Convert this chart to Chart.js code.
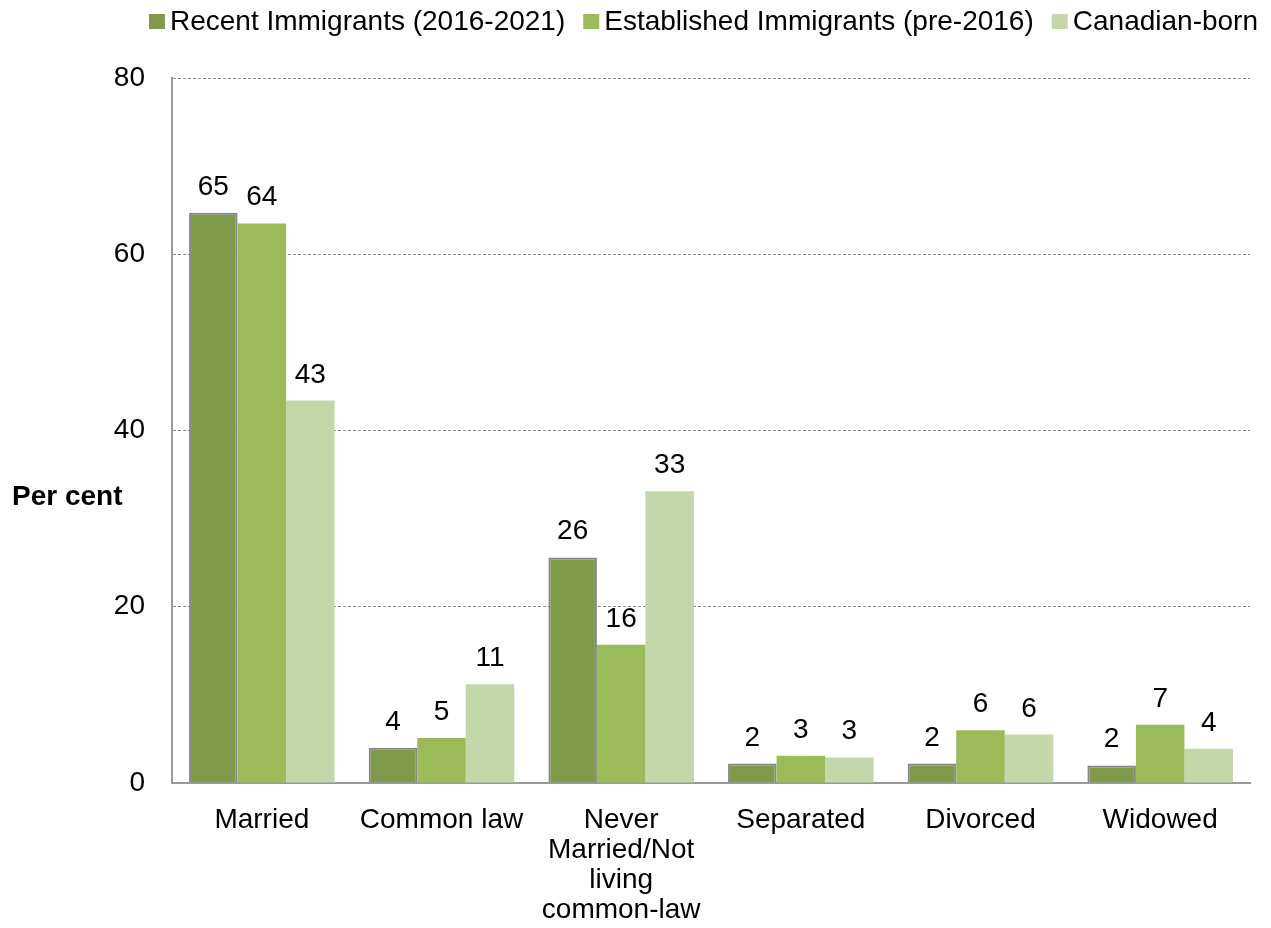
<!DOCTYPE html>
<html>
<head>
<meta charset="utf-8">
<script src="https://cdn.jsdelivr.net/npm/chart.js@4"></script>
<style>
  html, body { margin: 0; padding: 0; background: #fff; }
  #wrap { width: 1271px; height: 928px; }
</style>
</head>
<body>
<div id="wrap"><canvas id="statusChart"></canvas></div>
<script>
const categories = ['Married', 'Common law', ['Never', 'Married/Not', 'living', 'common-law'], 'Separated', 'Divorced', 'Widowed'];
const recentImmigrants = [64.7, 4.0, 25.6, 2.2, 2.2, 2.0];
const establishedImmigrants = [63.5, 5.1, 15.7, 3.1, 6.0, 6.6];
const canadianBorn = [43.4, 11.2, 33.1, 2.9, 5.5, 3.9];
const yTicks = [0, 20, 40, 60, 80];

const FONT = '"Liberation Sans", Arial, sans-serif';

// value labels above bars, the legend row and the horizontal y axis title
const annotations = {
    id: 'annotations',
    afterDatasetsDraw(chart) {
        const ctx = chart.ctx;
        ctx.save();
        ctx.font = '28px ' + FONT;
        ctx.fillStyle = '#000';
        ctx.textAlign = 'center';
        ctx.textBaseline = 'alphabetic';
        chart.data.datasets.forEach((ds, i) => {
            chart.getDatasetMeta(i).data.forEach((bar, j) => {
                ctx.fillText(String(Math.round(ds.data[j])), bar.x, bar.y - 18);
            });
        });

        // legend, right aligned
        const box = 16, gap = 5, spacing = 18, right = 1258, cy = 22;
        const items = chart.data.datasets.map(ds => ({
            text: ds.label, color: ds.backgroundColor, w: ctx.measureText(ds.label).width
        }));
        let total = items.reduce((s, it) => s + box + gap + it.w, 0) + spacing * (items.length - 1);
        let x = right - total;
        ctx.textAlign = 'left';
        ctx.textBaseline = 'middle';
        items.forEach(it => {
            ctx.fillStyle = it.color;
            ctx.fillRect(x, cy - 8, box, 15);
            ctx.fillStyle = '#000';
            ctx.fillText(it.text, x + box + gap, cy);
            x += box + gap + it.w + spacing;
        });

        ctx.font = 'bold 28px ' + FONT;
        ctx.fillText('Per cent', 12, 497);
        ctx.restore();
    }
};

const ctx = document.getElementById('statusChart').getContext('2d');
const statusChart = new Chart(ctx, {
    type: 'bar',
    data: {
        labels: categories,
        datasets: [{
            label: 'Recent Immigrants (2016-2021)',
            data: recentImmigrants,
            backgroundColor: '#7F9A4A',
            borderColor: '#868686',
            borderWidth: 2
        }, {
            label: 'Established Immigrants (pre-2016)',
            data: establishedImmigrants,
            backgroundColor: '#9BBB59',
            borderWidth: 0
        }, {
            label: 'Canadian-born',
            data: canadianBorn,
            backgroundColor: '#C4D7AA',
            borderWidth: 0
        }]
    },
    options: {
        responsive: true,
        maintainAspectRatio: false,
        animation: false,
        layout: { padding: { left: 0, right: 21, top: 78, bottom: 0 } },
        datasets: {
            bar: { categoryPercentage: 0.81, barPercentage: 1.0 }
        },
        scales: {
            x: {
                grid: { display: false, drawTicks: false },
                border: { display: true, color: '#9a9a9a', width: 2 },
                ticks: {
                    color: '#000',
                    font: { family: FONT, size: 28, lineHeight: 1.07 },
                    padding: 22,
                    maxRotation: 0,
                    autoSkip: false
                },
                afterFit: s => { s.height = 145; }
            },
            y: {
                min: 0,
                max: 80,
                afterBuildTicks: s => { s.ticks = yTicks.map(v => ({ value: v })); },
                grid: { color: '#8c8c8c', lineWidth: 1, drawTicks: false },
                border: { display: true, color: '#9a9a9a', width: 2, dash: [3, 2] },
                ticks: {
                    color: '#000',
                    font: { family: FONT, size: 28 },
                    padding: 27
                },
                afterFit: s => { s.width = 172; }
            }
        },
        plugins: {
            legend: { display: false },
            tooltip: { enabled: false }
        }
    },
    plugins: [annotations]
});
</script>
</body>
</html>
